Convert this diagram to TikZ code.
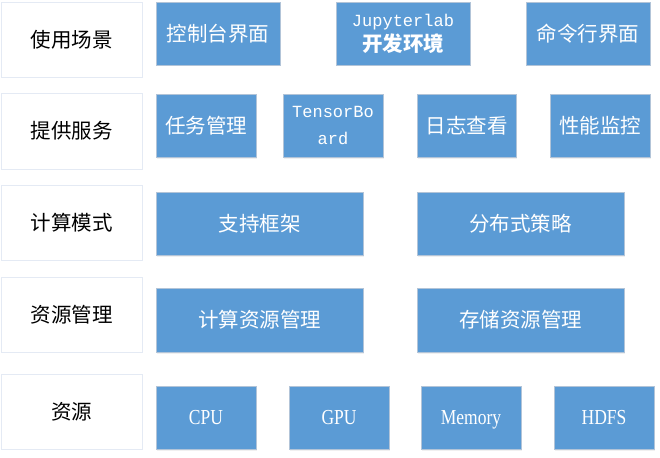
\documentclass[tikz,border=0pt]{standalone}
\usepackage{fontspec}
\usepackage{graphicx}
\setmainfont{Liberation Serif}
\newfontfamily\cjk{Noto Sans CJK SC}
\newfontfamily\monof{Liberation Mono}
\usetikzlibrary{shadows}
\definecolor{boxblue}{HTML}{5B9BD5}
\definecolor{boxedge}{HTML}{B2C4D8}
\definecolor{labedge}{HTML}{E4EAF4}
\newcommand{\tallx}[1]{\raisebox{-2.5pt}[\height][\depth]{\scalebox{1}[1.22]{\vphantom{Hy}#1}}}
\begin{document}
\begin{tikzpicture}[x=1pt,y=-1pt,
  labbox/.style={draw=labedge, line width=0.8pt, fill=white, rectangle, inner sep=0pt,
    font=\cjk\fontsize{20.5}{24}\selectfont, text=black},
  bluebox/.style={draw=boxedge, line width=0.8pt, fill=boxblue, rectangle, inner sep=0pt,
    text=white, font=\cjk\fontsize{20.5}{24}\selectfont,
    drop shadow={opacity=0.12, shadow xshift=1pt, shadow yshift=-1.5pt}},
  latin/.style={font=\fontsize{17.5}{20}\selectfont},
  mono/.style={font=\monof\fontsize{17}{27}\selectfont, align=center}]
\useasboundingbox (0,0) rectangle (660,457);
% label column
\node[labbox, minimum width=141pt, minimum height=75pt] (l1) at (71.5,39.5) {使用场景};
\node[labbox, minimum width=141pt, minimum height=76pt] (l2) at (71.5,131) {提供服务};
\node[labbox, minimum width=141pt, minimum height=75pt] (l3) at (71.5,222.5) {计算模式};
\node[labbox, minimum width=141pt, minimum height=75pt] (l4) at (71.5,314.5) {资源管理};
\node[labbox, minimum width=141pt, minimum height=75pt] (l5) at (71.5,411.5) {资源};
% row 1
\node[bluebox, minimum width=124pt, minimum height=63pt] (r1a) at (218,33.5) {控制台界面};
\node[bluebox, minimum width=134pt, minimum height=63pt, align=center] (r1b) at (403,33.5)
  {{\monof\fontsize{17}{20}\selectfont Jupyterlab}\\[1pt]{\bfseries 开发环境}};
\node[bluebox, minimum width=124pt, minimum height=63pt] (r1c) at (588,33.5) {命令行界面};
% row 2
\node[bluebox, minimum width=100pt, minimum height=63pt] (r2a) at (206,125.5) {任务管理};
\node[bluebox, minimum width=100pt, minimum height=63pt, mono] (r2b) at (333,125.5) {TensorBo\\ard};
\node[bluebox, minimum width=99pt, minimum height=63pt] (r2c) at (466.5,125.5) {日志查看};
\node[bluebox, minimum width=100pt, minimum height=63pt] (r2d) at (600,125.5) {性能监控};
% row 3
\node[bluebox, minimum width=207pt, minimum height=63pt] (r3a) at (259.5,223.5) {支持框架};
\node[bluebox, minimum width=207pt, minimum height=63pt] (r3b) at (520.5,223.5) {分布式策略};
% row 4
\node[bluebox, minimum width=207pt, minimum height=64pt] (r4a) at (259.5,320) {计算资源管理};
\node[bluebox, minimum width=207pt, minimum height=64pt] (r4b) at (520.5,320) {存储资源管理};
% row 5
\node[bluebox, latin, minimum width=100pt, minimum height=63pt] (r5a) at (206,417.5) {\tallx{CPU}};
\node[bluebox, latin, minimum width=100pt, minimum height=63pt] (r5b) at (339,417.5) {\tallx{GPU}};
\node[bluebox, latin, minimum width=100pt, minimum height=63pt] (r5c) at (471,417.5) {\tallx{Memory}};
\node[bluebox, latin, minimum width=100pt, minimum height=63pt] (r5d) at (604,417.5) {\tallx{HDFS}};
\end{tikzpicture}
\end{document}
